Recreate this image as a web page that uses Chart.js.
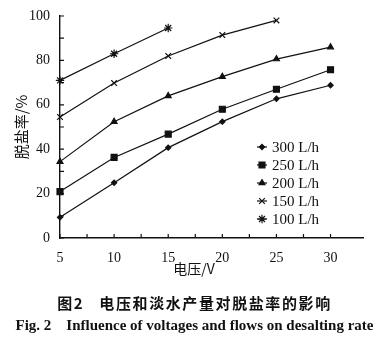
<!DOCTYPE html>
<html>
<head>
<meta charset="utf-8">
<script src="https://cdn.jsdelivr.net/npm/chart.js@4.4.1/dist/chart.umd.min.js"></script>
<style>
  body { margin: 0; background: #fff; }
  #wrap { position: relative; width: 389px; height: 338px; }
  .txt { position: absolute; color: #111; white-space: pre; text-align: center; }
  #xTitle { left: 154px; width: 80px; top: 258px; font: 14px "Noto Sans CJK SC"; }
  #capCn { left: 0; width: 389px; top: 292px; font: bold 15px "Noto Sans CJK SC"; letter-spacing: 1.6px; }
  #capEn { left: 0; width: 389px; top: 317px; font: bold 15px "Liberation Serif"; }
</style>
</head>
<body>
<div id="wrap">
  <canvas id="desalt" width="389" height="338"></canvas>
  <div class="txt" id="xTitle">电压/V</div>
  <div class="txt" id="capCn">图2   电压和淡水产量对脱盐率的影响</div>
  <div class="txt" id="capEn">Fig. 2    Influence of voltages and flows on desalting rate</div>
</div>
<script>
// --- DATA ---
const voltages = [5, 10, 15, 20, 25, 30];
const flowLabels = ['300 L/h', '250 L/h', '200 L/h', '150 L/h', '100 L/h'];
const rate300 = [9.3, 24.9, 40.7, 52.4, 62.7, 68.8];
const rate250 = [20.9, 36.3, 46.8, 58.0, 67.0, 75.8];
const rate200 = [34.4, 52.4, 64.0, 72.7, 80.6, 86.0];
const rate150 = [54.5, 69.8, 82.0, 91.4, 98.0];
const rate100 = [71.0, 83.0, 94.6];
const yTicks = [0, 20, 40, 60, 80, 100];
const xTicks = [5, 10, 15, 20, 25, 30];

const INK = '#111';

function toPoints(rates) {
  return rates.map((r, i) => ({ x: voltages[i], y: r }));
}

function series(label, rates, style, radius) {
  return {
    label: label,
    data: toPoints(rates),
    borderColor: INK,
    backgroundColor: INK,
    borderWidth: 1.2,
    pointStyle: style,
    pointRadius: radius,
    pointBorderWidth: 1.2,
    tension: 0,
    clip: false
  };
}

// small ticks pointing into the plot, like the printed figure
const insideTicks = {
  id: 'insideTicks',
  afterDraw(chart) {
    const ctx = chart.ctx, area = chart.chartArea;
    const xs = chart.scales.x, ys = chart.scales.y;
    ctx.save();
    ctx.strokeStyle = INK;
    ctx.lineWidth = 1.2;
    ctx.beginPath();
    xs.ticks.forEach(t => {
      const p = xs.getPixelForValue(t.value);
      ctx.moveTo(p, area.bottom); ctx.lineTo(p, area.bottom - 4);
    });
    ys.ticks.forEach(t => {
      const p = ys.getPixelForValue(t.value);
      ctx.moveTo(area.left, p); ctx.lineTo(area.left + 4, p);
    });
    ctx.stroke();
    ctx.restore();
  }
};

// legend sits inside the plot area, lower right
const innerLegend = {
  id: 'innerLegend',
  afterDraw(chart) {
    const ctx = chart.ctx, area = chart.chartArea;
    const x0 = area.left + 197, y0 = area.top + 131, rowH = 18;
    ctx.save();
    ctx.font = '15px "Liberation Serif"';
    ctx.textBaseline = 'middle';
    chart.data.datasets.forEach((ds, i) => {
      const y = y0 + i * rowH;
      ctx.strokeStyle = INK;
      ctx.lineWidth = 1.2;
      ctx.beginPath();
      ctx.moveTo(x0, y); ctx.lineTo(x0 + 10, y);
      ctx.stroke();
      ctx.fillStyle = INK;
      Chart.helpers.drawPoint(ctx, {
        pointStyle: ds.pointStyle, radius: ds.pointRadius, rotation: 0, borderWidth: 1.2
      }, x0 + 5, y);
      ctx.fillStyle = INK;
      ctx.fillText(ds.label, x0 + 15, y + 1);
    });
    ctx.restore();
  }
};

const chart = new Chart(document.getElementById('desalt'), {
  type: 'line',
  data: {
    datasets: [
      series(flowLabels[0], rate300, 'rectRot', 2.6),
      series(flowLabels[1], rate250, 'rect', 4.2),
      series(flowLabels[2], rate200, 'triangle', 3.4),
      series(flowLabels[3], rate150, 'crossRot', 4),
      series(flowLabels[4], rate100, 'star', 4.2)
    ]
  },
  options: {
    responsive: false,
    animation: false,
    devicePixelRatio: 1,
    layout: { padding: { left: 0, top: 16, right: 26, bottom: 0 } },
    plugins: { legend: { display: false }, tooltip: { enabled: false } },
    scales: {
      x: {
        type: 'linear',
        min: 5,
        max: 33,
        afterBuildTicks: s => {
          s.ticks = [];
          xTicks.forEach(v => { s.ticks.push({ value: v }); s.ticks.push({ value: v + 2.5 }); });
          s.ticks = s.ticks.filter(t => t.value <= 30);
        },
        afterFit: s => { s.height = 100; },
        grid: { display: false },
        border: { color: INK, width: 1.4 },
        ticks: {
          color: INK,
          padding: 4,
          maxRotation: 0,
          autoSkip: false,
          font: { family: 'Liberation Serif', size: 14 },
          callback: v => xTicks.includes(v) ? String(v) : ''
        }
      },
      y: {
        min: 0,
        max: 100,
        afterBuildTicks: s => {
          s.ticks = [];
          for (let k = 0; k < yTicks.length; k++) {
            s.ticks.push({ value: yTicks[k] });
            if (k < yTicks.length - 1) s.ticks.push({ value: (yTicks[k] + yTicks[k + 1]) / 2 });
          }
        },
        afterFit: s => { s.width = 60; },
        grid: { display: false },
        border: { color: INK, width: 1.4 },
        title: {
          display: true,
          text: '脱盐率/%',
          color: INK,
          font: { family: 'Noto Sans CJK SC', size: 15 },
          padding: { top: 12, bottom: 0 }
        },
        ticks: {
          color: INK,
          padding: 2,
          autoSkip: false,
          font: { family: 'Liberation Serif', size: 14 },
          callback: v => yTicks.includes(v) ? String(v) : ''
        }
      }
    }
  },
  plugins: [insideTicks, innerLegend]
});
</script>
</body>
</html>
